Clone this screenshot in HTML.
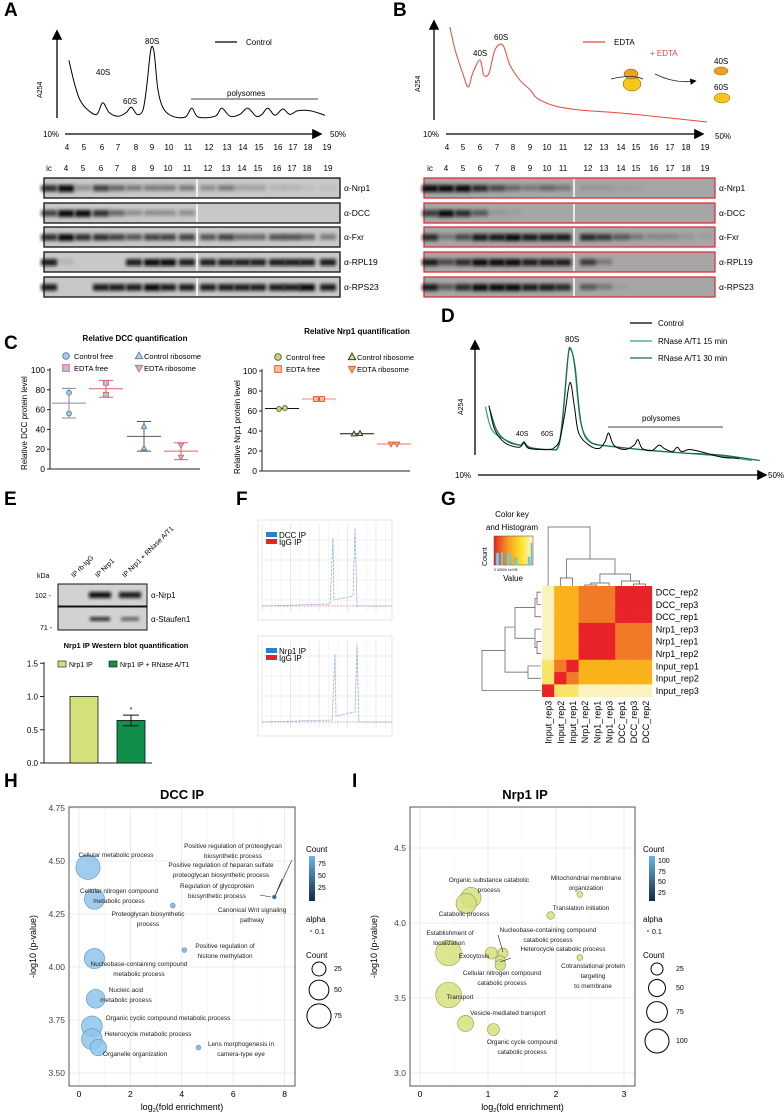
<!DOCTYPE html>
<html><head><meta charset="utf-8"><style>
html,body{margin:0;padding:0;background:#fff;}
svg{display:block;font-family:"Liberation Sans",sans-serif;}
.pl{font-weight:bold;font-size:19px;}
.t9{font-size:9px;}
.t8{font-size:8px;}
.t7{font-size:7px;}
.lab{font-size:6.4px;fill:#222;}
</style></head><body>
<svg id="fig" width="784" height="1117" viewBox="0 0 784 1117" xmlns="http://www.w3.org/2000/svg">
<defs>
<filter id="bl" x="-50%" y="-50%" width="200%" height="200%"><feGaussianBlur stdDeviation="1.6"/></filter>
<linearGradient id="ck" x1="0" x2="1" y1="0" y2="0"><stop offset="0" stop-color="#e8242a"/><stop offset="0.35" stop-color="#f59a20"/><stop offset="0.7" stop-color="#fbe32a"/><stop offset="1" stop-color="#fdf8d0"/></linearGradient>
<linearGradient id="cbH" x1="0" x2="0" y1="0" y2="1"><stop offset="0" stop-color="#68b4ec"/><stop offset="1" stop-color="#132b43"/></linearGradient>
<marker id="arr" markerWidth="8" markerHeight="8" refX="6" refY="4" orient="auto"><path d="M0,0 L8,4 L0,8 z" fill="#000"/></marker>
</defs>
<rect width="784" height="1117" fill="#fff"/>

<text class="pl" x="4" y="16">A</text>
<text class="pl" x="393" y="16">B</text>
<text class="pl" x="4" y="349">C</text>
<text class="pl" x="441" y="322">D</text>
<text class="pl" x="4" y="505">E</text>
<text class="pl" x="236" y="505">F</text>
<text class="pl" x="441" y="505">G</text>
<text class="pl" x="4" y="787">H</text>
<text class="pl" x="352" y="787">I</text>

<g>
<line x1="57" y1="118" x2="57" y2="32" stroke="#000" stroke-width="1.3" marker-end="url(#arr)"/>
<text class="t7" transform="translate(42,98) rotate(-90)">A254</text>
<line x1="65" y1="134" x2="320" y2="134" stroke="#000" stroke-width="1.3" marker-end="url(#arr)"/>
<text class="t8" x="43" y="137">10%</text>
<text class="t8" x="330" y="137">50%</text>
<line x1="215" y1="42" x2="237" y2="42" stroke="#000" stroke-width="1.2"/>
<text class="t8" x="246" y="45">Control</text>
<text class="t8" x="145" y="44">80S</text>
<text class="t8" x="96" y="75">40S</text>
<text class="t8" x="123" y="104">60S</text>
<text class="t8" x="227" y="96">polysomes</text>
<line x1="191" y1="99" x2="318" y2="99" stroke="#000" stroke-width="0.8"/>
</g>

<g>
<line x1="434" y1="120" x2="434" y2="22" stroke="#000" stroke-width="1.3" marker-end="url(#arr)"/>
<text class="t7" transform="translate(420,92) rotate(-90)">A254</text>
<line x1="446" y1="134" x2="702" y2="134" stroke="#000" stroke-width="1.3" marker-end="url(#arr)"/>
<text class="t8" x="423" y="137">10%</text>
<text class="t8" x="715" y="139">50%</text>
<line x1="583" y1="42" x2="605" y2="42" stroke="#e8473a" stroke-width="1.2"/>
<text class="t8" x="614" y="45">EDTA</text>
<text class="t8" x="650" y="56" fill="#e8473a">+ EDTA</text>
<text class="t8" x="473" y="56">40S</text>
<text class="t8" x="494" y="40">60S</text>
<g>
<ellipse cx="632" cy="84" rx="9" ry="7" fill="#f5c518" stroke="#6a5000" stroke-width="0.5"/>
<ellipse cx="631" cy="74" rx="7" ry="5" fill="#f0a020" stroke="#6a5000" stroke-width="0.5"/>
<path d="M611,79 Q632,74 643,79" stroke="#222" fill="none" stroke-width="0.8"/>
</g>
<path d="M655,74 Q675,84 695,81" stroke="#222" fill="none" stroke-width="0.8" marker-end="url(#arr)"/>
<text class="t8" x="714" y="64">40S</text>
<ellipse cx="721" cy="71" rx="7" ry="4" fill="#f0a020" stroke="#6a5000" stroke-width="0.4"/>
<text class="t8" x="714" y="90">60S</text>
<ellipse cx="722" cy="98" rx="8" ry="5" fill="#f5c518" stroke="#6a5000" stroke-width="0.4"/>
</g>

<g id="blotsA"></g>
<g id="blotsB"></g>

<text x="135" y="341" text-anchor="middle" font-size="8" font-weight="bold">Relative DCC quantification</text>
<text x="357" y="334" text-anchor="middle" font-size="8" font-weight="bold">Relative Nrp1 quantification</text>
<text class="t8" transform="translate(27,470) rotate(-90)">Relative DCC protein level</text>
<text class="t8" transform="translate(240,474) rotate(-90)">Relative Nrp1 protein level</text>
<g id="chartC"></g>

<g>
<line x1="475" y1="455" x2="475" y2="342" stroke="#000" stroke-width="1.3" marker-end="url(#arr)"/>
<text class="t7" transform="translate(463,415) rotate(-90)">A254</text>
<line x1="478" y1="475" x2="765" y2="475" stroke="#000" stroke-width="1.3" marker-end="url(#arr)"/>
<text class="t8" x="455" y="478">10%</text>
<text class="t8" x="768" y="478">50%</text>
<line x1="630" y1="323" x2="652" y2="323" stroke="#000" stroke-width="1.2"/>
<text class="t8" x="658" y="326">Control</text>
<line x1="630" y1="341" x2="652" y2="341" stroke="#2aa67a" stroke-width="1.2"/>
<text class="t8" x="658" y="344">RNase A/T1 15 min</text>
<line x1="630" y1="358" x2="652" y2="358" stroke="#1e6e3c" stroke-width="1.2"/>
<text class="t8" x="658" y="361">RNase A/T1 30 min</text>
<text class="t8" x="565" y="342">80S</text>
<text class="t7" x="516" y="436">40S</text>
<text class="t7" x="541" y="436">60S</text>
<text class="t8" x="642" y="421">polysomes</text>
<line x1="608" y1="427" x2="723" y2="427" stroke="#000" stroke-width="0.8"/>
</g>
<g id="profiles"></g>

<g>
<text class="t7" transform="translate(74,578) rotate(-45)">IP rb-IgG</text>
<text class="t7" transform="translate(98,578) rotate(-45)">IP Nrp1</text>
<text class="t7" transform="translate(125,578) rotate(-45)">IP Nrp1 + RNase A/T1</text>
<text class="t7" x="37" y="578">kDa</text>
<text class="t7" x="35" y="598">102 -</text>
<text class="t7" x="40" y="630">71 -</text>
<rect x="58" y="584" width="89" height="22" fill="#d2d2d2" stroke="#111" stroke-width="1"/>
<rect x="58" y="607" width="89" height="23" fill="#d2d2d2" stroke="#111" stroke-width="1"/>
<rect x="89" y="592" width="22" height="6" fill="#111" filter="url(#bl)"/>
<rect x="119" y="592" width="22" height="6" fill="#1a1a1a" filter="url(#bl)"/>
<rect x="90" y="617" width="20" height="4" fill="#333" filter="url(#bl)"/>
<rect x="121" y="617" width="18" height="4" fill="#666" filter="url(#bl)"/>
<text class="t8" x="151" y="598">α-Nrp1</text>
<text class="t8" x="151" y="622">α-Staufen1</text>
<text x="126" y="648" text-anchor="middle" font-size="7.5" font-weight="bold">Nrp1 IP Western blot quantification</text>
<rect x="58" y="661" width="8" height="6" fill="#d4e07a" stroke="#111" stroke-width="0.6"/>
<text class="t7" x="69" y="667">Nrp1 IP</text>
<rect x="109" y="661" width="8" height="6" fill="#0f8f4a" stroke="#111" stroke-width="0.6"/>
<text class="t7" x="120" y="667">Nrp1 IP + RNase A/T1</text>
</g>
<g id="chartE"></g>

<g id="panelF"></g>

<g>
<text class="t8" x="512" y="517" text-anchor="middle">Color key</text>
<text class="t8" x="512" y="530" text-anchor="middle">and Histogram</text>
<rect x="494" y="536" width="39" height="29" fill="url(#ck)" stroke="#444" stroke-width="0.5"/>
<path d="M496,565 V553 H499 V565 M501,565 V552 H503 V565 M507,565 V553 H510 V565 M514,565 V558 H517 V565 M528,565 V557 H530 V565 M531,565 V543 H532 V565" fill="#7ec9d8" stroke="#4fb0c8" stroke-width="0.4"/>
<text font-size="7" transform="translate(487,566) rotate(-90)">Count</text>
<text font-size="3.5" x="494" y="571">0  40000 1e+05</text>
<text class="t8" x="513" y="581" text-anchor="middle">Value</text>
</g>
<g id="heat"></g>

<text x="182" y="799" text-anchor="middle" font-size="13" font-weight="bold">DCC IP</text>
<text x="525" y="799" text-anchor="middle" font-size="13" font-weight="bold">Nrp1 IP</text>
<g id="chartH"></g>
<g id="chartI"></g>
<g id="labelsHI">
<g class="lab" text-anchor="middle">
<text x="116" y="857">Cellular metabolic process</text>
<text x="119" y="893">Cellular nitrogen compound</text><text x="119" y="903">metabolic process</text>
<text x="148" y="916">Proteoglycan biosynthetic</text><text x="148" y="926">process</text>
<text x="233" y="848">Positive regulation of proteoglycan</text><text x="233" y="858">biosynthetic process</text>
<text x="221" y="867">Positive regulation of heparan sulfate</text><text x="221" y="877">proteoglycan biosynthetic process</text>
<text x="217" y="888">Regulation of glycoprotein</text><text x="217" y="898">biosynthetic process</text>
<text x="252" y="912">Canonical Wnt signaling</text><text x="252" y="922">pathway</text>
<text x="225" y="948">Positive regulation of</text><text x="225" y="958">histone methylation</text>
<text x="139" y="966">Nucleobase-containing compound</text><text x="139" y="976">metabolic process</text>
<text x="126" y="992">Nucleic acid</text><text x="126" y="1002">metabolic process</text>
<text x="168" y="1020">Organic cyclic compound metabolic process</text>
<text x="148" y="1036">Heterocycle metabolic process</text>
<text x="241" y="1046">Lens morphogenesis in</text><text x="241" y="1056">camera-type eye</text>
<text x="135" y="1056">Organelle organization</text>
<text x="489" y="882">Organic substance catabolic</text><text x="489" y="892">process</text>
<text x="464" y="916">Catabolic process</text>
<text x="586" y="880">Mitochondrial membrane</text><text x="586" y="890">organization</text>
<text x="581" y="910">Translation initiation</text>
<text x="450" y="935">Establishment of</text><text x="449" y="945">localization</text>
<text x="548" y="932">Nucleobase-containing compound</text><text x="548" y="942">catabolic process</text>
<text x="563" y="951">Heterocycle catabolic process</text>
<text x="474" y="958">Exocytosis</text>
<text x="593" y="968">Cotranslational protein</text><text x="593" y="978">targeting</text><text x="593" y="988">to membrane</text>
<text x="502" y="975">Cellular nitrogen compound</text><text x="502" y="985">catabolic process</text>
<text x="460" y="999">Transport</text>
<text x="508" y="1015">Vesicle-mediated transport</text>
<text x="522" y="1044">Organic cycle compound</text><text x="522" y="1054">catabolic process</text>
</g>
<path d="M292,860 L275,896 M282,879 L275,896 M260,895 L271,897 M498,935 L503,952 M511,958 L500,962" stroke="#222" stroke-width="0.6" fill="none"/>
</g>
<g>
<text class="t8" x="306" y="852">Count</text>
<rect x="309" y="856" width="6" height="45" fill="url(#cbH)"/>
<text class="t7" x="318" y="866">75</text><text class="t7" x="318" y="878">50</text><text class="t7" x="318" y="890">25</text>
<text class="t8" x="306" y="922">alpha</text>
<circle cx="311" cy="931" r="1" fill="#777"/><text class="t7" x="315" y="934">0.1</text>
<text class="t8" x="306" y="958">Count</text>
<circle cx="319" cy="969" r="7" fill="none" stroke="#000"/><text class="t7" x="334" y="971">25</text>
<circle cx="319" cy="990" r="9.9" fill="none" stroke="#000"/><text class="t7" x="334" y="992">50</text>
<circle cx="319" cy="1016" r="12.1" fill="none" stroke="#000"/><text class="t7" x="334" y="1018">75</text>
</g>
<g>
<text class="t8" x="643" y="852">Count</text>
<rect x="649" y="856" width="6" height="45" fill="url(#cbH)"/>
<text class="t7" x="658" y="863">100</text><text class="t7" x="658" y="874">75</text><text class="t7" x="658" y="884">50</text><text class="t7" x="658" y="895">25</text>
<text class="t8" x="643" y="922">alpha</text>
<circle cx="648" cy="931" r="1" fill="#777"/><text class="t7" x="652" y="934">0.1</text>
<text class="t8" x="643" y="958">Count</text>
<circle cx="657" cy="969" r="6" fill="none" stroke="#000"/><text class="t7" x="676" y="971">25</text>
<circle cx="657" cy="988" r="8.5" fill="none" stroke="#000"/><text class="t7" x="676" y="990">50</text>
<circle cx="657" cy="1012" r="10.4" fill="none" stroke="#000"/><text class="t7" x="676" y="1014">75</text>
<circle cx="657" cy="1041" r="12" fill="none" stroke="#000"/><text class="t7" x="676" y="1043">100</text>
</g>
</svg>

<script>
const NS='http://www.w3.org/2000/svg';
const aPct=[10.6,11.5,12.3,13.5,14.9,15.8,16.8,18.2,19.4,20.2,21.1,22.0,22.6,23.2,23.7,24.3,25.1,26.5,28.5,29.5,30.5,33.1,34.1,35.4,36.9,38.1,39.4,40.3,41.2,42.3,43.5,44.6,45.8,47.7,50.0];
const aAbs=[0.64,0.37,0.20,0.09,0.04,0.17,0.06,0.02,0.06,0.12,0.04,0.09,0.37,0.76,0.73,0.31,0.11,0.02,0.01,0.11,0.01,0.02,0.11,0.02,0.04,0.11,0.02,0.04,0.11,0.03,0.10,0.04,0.08,0.08,0.03];
const bPct=[10.6,11.4,12.5,13.4,14.1,15.2,15.8,16.6,17.5,18.7,19.8,21.3,22.9,23.6,24.4,26.7,30.5,36.7,42.8,50.0];
const bAbs=[0.93,0.70,0.48,0.33,0.47,0.60,0.45,0.47,0.70,0.75,0.55,0.40,0.30,0.24,0.20,0.14,0.10,0.07,0.03,-0.02];
const dCtrlPct=[11.5,12.3,13.7,15.6,16.3,17.0,19.7,20.5,21.2,21.9,22.6,23.2,23.8,25.2,26.6,27.4,27.9,28.6,30.1,31.4,31.9,32.5,33.8,34.8,35.5,36.6,37.3,37.9,39.0,41.1,43.4,45.8];
const dCtrlAbs=[0.45,0.23,0.11,0.07,0.11,0.06,0.05,0.07,0.14,0.38,0.66,0.44,0.20,0.09,0.06,0.12,0.20,0.09,0.05,0.09,0.14,0.06,0.04,0.09,0.06,0.03,0.07,0.03,0.05,0.02,-0.02,-0.03];
const d15Pct=[11.0,11.9,13.7,15.8,16.3,17.1,19.9,21.0,21.6,22.3,22.6,23.2,24.0,25.1,26.7,29.5,32.2,37.7,43.2,47.5];
const d15Abs=[0.44,0.23,0.14,0.09,0.11,0.06,0.05,0.07,0.32,0.86,0.98,0.82,0.32,0.14,0.09,0.07,0.05,0.02,-0.01,-0.05];
const d30Pct=[11.6,12.6,14.1,15.8,16.3,17.1,19.9,21.0,21.6,22.3,22.7,23.3,24.1,25.3,28.1,32.2,37.7,43.2,48.6];
const d30Abs=[0.42,0.22,0.12,0.09,0.12,0.07,0.05,0.08,0.35,0.88,0.96,0.80,0.30,0.12,0.08,0.05,0.02,0.00,-0.05];
const laneLabels=['ic','4','5','6','7','8','9','10','11','12','13','14','15','16','17','18','19'];
const blotNames=['α-Nrp1','α-DCC','α-Fxr','α-RPL19','α-RPS23'];
const blotA_nrp1=[.8,1,.3,.7,.5,.4,.4,.4,.4,.3,.4,.2,.2,.1,.1,.05,.05];
const blotA_dcc=[.7,1,1,.8,.5,.3,.3,.3,.3,0,0,0,0,0,0,0,0];
const blotA_fxr=[.8,1,.8,.8,.7,.6,.7,.7,.7,.6,.7,.5,.5,.6,.6,.5,.4];
const blotA_rpl19=[.9,.1,0,0,0,.9,1,1,.9,.9,.9,.9,.9,.9,.9,.9,.9];
const blotA_rps23=[.9,0,0,.9,.9,.9,1,.9,.9,.9,.9,.9,.9,.9,.9,1,.9];
const blotB_nrp1=[1,1,1,.8,.6,.4,.3,.4,.3,.1,.1,.05,.05,0,0,0,0];
const blotB_dcc=[.7,1,.8,.5,.1,.05,0,0,0,0,0,0,0,0,0,0,0];
const blotB_fxr=[.8,.3,.6,.9,.9,1,.9,.9,.9,.8,.7,.5,.3,.2,.2,.1,.05];
const blotB_rpl19=[.9,.6,.8,1,1,1,.9,.9,.9,.7,.3,0,0,0,0,0,0];
const blotB_rps23=[.9,.5,.8,1,1,1,.9,.9,.8,.5,.3,.05,0,0,0,0,0];
const cGroups=['Control free','EDTA free','Control ribosome','EDTA ribosome'];
const dccPts1=[77,87,43,24];
const dccPts2=[56,75,21,12];
const dccMean=[66.5,81,33,18];
const dccSd=[15,8.5,15,8.5];
const nrpPts1=[62,72,37,27];
const nrpPts2=[63,72,37.5,27];
const nrpMean=[62.5,72,37.3,27];
const nrpSd=[0,0,0,0];
const cTicks=[0,20,40,60,80,100];
const eCats=['Nrp1 IP','Nrp1 IP + RNase A/T1'];
const eVals=[1.0,0.64];
const eErr=[0,0.08];
const eTicks=[0,0.5,1.0,1.5];
const gCols=['Input_rep3','Input_rep2','Input_rep1','Nrp1_rep2','Nrp1_rep1','Nrp1_rep3','DCC_rep1','DCC_rep3','DCC_rep2'];
const gRows=['DCC_rep2','DCC_rep3','DCC_rep1','Nrp1_rep3','Nrp1_rep1','Nrp1_rep2','Input_rep1','Input_rep2','Input_rep3'];
const gVals=[
[0,2,2,3,3,3,4,4,4.3],
[0,2,2,3,3,3,4,4.3,4],
[0,2,2,3,3,3,4.3,4,4],
[0,2,2,4,4.2,4.3,3,3,3],
[0,2,2,4,4.3,4.2,3,3,3],
[0,2,2,4.3,4,4,3,3,3],
[1,3,4.3,2,2,2,2,2,2],
[1,4.3,3,2,2,2,2,2,2],
[4.3,1,1,0,0,0,0,0,0]];
const hTerms=['Cellular metabolic process','Cellular nitrogen compound metabolic process','Nucleobase-containing compound metabolic process','Nucleic acid metabolic process','Organic cyclic compound metabolic process','Heterocycle metabolic process','Organelle organization','Proteoglycan biosynthetic process','Positive regulation of histone methylation','Lens morphogenesis in camera-type eye','Canonical Wnt signaling pathway'];
const hFold=[0.35,0.6,0.6,0.65,0.5,0.5,0.75,3.65,4.1,4.65,7.6];
const hP=[4.47,4.32,4.04,3.85,3.72,3.66,3.62,4.29,4.08,3.62,4.33];
const hCount=[75,52,52,45,55,55,35,3,3,3,2];
const hXTicks=[0,2,4,6,8];
const hYTicks=[3.5,3.75,4.0,4.25,4.5,4.75];
const iTerms=['Organic substance catabolic process','Catabolic process','Establishment of localization','Exocytosis','Nucleobase-containing compound catabolic process','Heterocycle catabolic process','Cellular nitrogen compound catabolic process','Transport','Vesicle-mediated transport','Organic cycle compound catabolic process','Mitochondrial membrane organization','Translation initiation','Cotranslational protein targeting to membrane'];
const iFold=[0.75,0.68,0.42,1.05,1.22,1.18,1.18,0.42,0.67,1.08,2.35,1.92,2.35];
const iP=[4.17,4.13,3.8,3.8,3.8,3.75,3.72,3.52,3.33,3.29,4.19,4.05,3.77];
const iCount=[70,72,115,25,18,17,20,115,45,25,6,10,6];
const iXTicks=[0,1,2,3];
const iYTicks=[3.0,3.5,4.0,4.5];

function mk(tag,parent){const e=document.createElementNS(NS,tag);parent.appendChild(e);return e;}
function smoothPath(xs,ys,fx,fy){
  const P=xs.map((x,i)=>[fx(x),fy(ys[i])]);
  let d='M'+P[0][0].toFixed(1)+','+P[0][1].toFixed(1);
  for(let i=0;i<P.length-1;i++){
    const p0=P[i-1]||P[i],p1=P[i],p2=P[i+1],p3=P[i+2]||p2;
    const c1=[p1[0]+(p2[0]-p0[0])/6,p1[1]+(p2[1]-p0[1])/6];
    const c2=[p2[0]-(p3[0]-p1[0])/6,p2[1]-(p3[1]-p1[1])/6];
    d+='C'+c1[0].toFixed(1)+','+c1[1].toFixed(1)+' '+c2[0].toFixed(1)+','+c2[1].toFixed(1)+' '+p2[0].toFixed(1)+','+p2[1].toFixed(1);
  }
  return d;
}
function txt(parent,x,y,s,size,anchor){const t=mk('text',parent);t.setAttribute('x',x);t.setAttribute('y',y);t.setAttribute('font-size',size);if(anchor)t.setAttribute('text-anchor',anchor);t.textContent=s;return t;}

const prof=document.getElementById('profiles');
const axA=p=>65+(p-10)/40*260, ayA=a=>118-a*90;
const axB=p=>446+(p-10)/40*261, ayB=a=>120-a*100;
const axD=p=>478+(p-10)/40*292, ayD=a=>455-a*110;
function curve(xs,ys,fx,fy,color,w,name){
  const p=mk('path',prof);
  p.setAttribute('d',smoothPath(xs,ys,fx,fy));
  p.setAttribute('fill','none');p.setAttribute('stroke',color);p.setAttribute('stroke-width',w);
  
  
}
curve(aPct,aAbs,axA,ayA,'#000',1,'a-control-curve');
curve(bPct,bAbs,axB,ayB,'#e8473a',1,'b-edta-curve');
curve(d15Pct,d15Abs,axD,ayD,'#2aa67a',1.2,'d-rnase-15-curve');
curve(d30Pct,d30Abs,axD,ayD,'#1e6e3c',1.2,'d-rnase-30-curve');
curve(dCtrlPct,dCtrlAbs,axD,ayD,'#000',1,'d-control-curve');

const fracA=[67,84,102,118,136,152,169,188,209,227,243,259,278,293,308,327];
const fracB=[447,463,480,497,513,530,547,563,588,604,621,636,654,670,686,705];
function fracLabels(xs,g,pref){for(let i=0;i<xs.length;i++){const t=txt(g,xs[i],150,laneLabels[i+1],8,'middle');
  
  }}
fracLabels(fracA,prof,'a');fracLabels(fracB,prof,'b');

function blots(gid,laneX,rows,x0,x1,sep,bg,border,labX,pref){
  const g=document.getElementById(gid);
  const rowY=[178,203,227,252,277];
  for(let i=0;i<laneX.length;i++){const t=txt(g,laneX[i],171,laneLabels[i],8,'middle');
    
    }
  rows.forEach((vals,r)=>{
    const y=rowY[r];
    const rc=mk('rect',g);rc.setAttribute('x',x0);rc.setAttribute('y',y);rc.setAttribute('width',x1-x0);rc.setAttribute('height',20);
    rc.setAttribute('fill',bg);rc.setAttribute('stroke',border);rc.setAttribute('stroke-width',1.3);
    
    
    vals.forEach((v,i)=>{ if(v<=0) return;
      const b=mk('rect',g);b.setAttribute('x',laneX[i]-8);b.setAttribute('y',y+7);b.setAttribute('width',16);b.setAttribute('height',5+v*2);
      b.setAttribute('fill','#111');b.setAttribute('opacity',v);b.setAttribute('filter','url(#bl)');
      
      
    });
    const l=mk('line',g);l.setAttribute('x1',sep);l.setAttribute('x2',sep);l.setAttribute('y1',y+1);l.setAttribute('y2',y+19);l.setAttribute('stroke','#fff');l.setAttribute('stroke-width',1.5);
    
    
    const t=txt(g,labX,y+13,blotNames[r],8.5);
    
    
  });
}
const laneA=[49,66,83,101,117,134,152,168,187,208,226,242,258,277,292,307,328];
const laneB=[430,446,463,480,497,513,530,547,563,588,604,621,636,654,670,686,705];
blots('blotsA',laneA,[blotA_nrp1,blotA_dcc,blotA_fxr,blotA_rpl19,blotA_rps23],44,340,197,'#c8c8c8','#111',344,'a');
blots('blotsB',laneB,[blotB_nrp1,blotB_dcc,blotB_fxr,blotB_rpl19,blotB_rps23],424,715,574,'#a6a6a6','#d8343a',719,'b');

const gC=document.getElementById('chartC');
function dotChart(ax,y0,yTop,xEnd,gx,p1,p2,mean,sd,styles,lineCols,legX,legX2,legY,pref){
  const ys=v=>y0-(v/100)*(y0-yTop);
  const a=mk('path',gC);a.setAttribute('d',`M${ax},${yTop-2}V${y0}H${xEnd}`);a.setAttribute('stroke','#222');a.setAttribute('fill','none');a.setAttribute('stroke-width',1);
  
  
  cTicks.forEach(v=>{const tk=mk('line',gC);tk.setAttribute('x1',ax-3);tk.setAttribute('x2',ax);tk.setAttribute('y1',ys(v));tk.setAttribute('y2',ys(v));tk.setAttribute('stroke','#222');
    
    
    const t=txt(gC,ax-5,ys(v)+3,String(v),8.5,'end');
    
    });
  for(let i=0;i<4;i++){
    const x=gx[i];
    const e=mk('path',gC);const top=ys(mean[i]+sd[i]),bot=ys(mean[i]-sd[i]);
    e.setAttribute('d',`M${x-7},${top}H${x+7}M${x},${top}V${bot}M${x-7},${bot}H${x+7}M${x-17},${ys(mean[i])}H${x+17}`);
    e.setAttribute('stroke',lineCols[i]);e.setAttribute('stroke-width',1);e.setAttribute('fill','none');
    
    
    [p1[i],p2[i]].forEach((v,k)=>{const m=marker(gC,styles[i],x+(sd[i]===0?(k?3:-3):0),ys(v),2.4);
      
      });
  }
  for(let i=0;i<4;i++){
    const lx=i<2?legX:legX2, ly=legY+(i%2)*12;
    const m=marker(gC,styles[i],lx,ly-3,3.3);
    
    
    const t=txt(gC,lx+(i<2?8:5),ly,cGroups[i],7.5);
    
    
  }
}
function marker(g,s,x,y,r){
  let m;
  if(s.shape==='circle'){m=mk('circle',g);m.setAttribute('cx',x);m.setAttribute('cy',y);m.setAttribute('r',r);}
  else if(s.shape==='square'){m=mk('rect',g);m.setAttribute('x',x-r);m.setAttribute('y',y-r);m.setAttribute('width',2*r);m.setAttribute('height',2*r);}
  else if(s.shape==='tri'){m=mk('path',g);m.setAttribute('d',`M${x},${y-r*1.2}L${x+r*1.1},${y+r*0.8}L${x-r*1.1},${y+r*0.8}Z`);}
  else {m=mk('path',g);m.setAttribute('d',`M${x},${y+r*1.2}L${x+r*1.1},${y-r*0.8}L${x-r*1.1},${y-r*0.8}Z`);}
  m.setAttribute('fill',s.fill);m.setAttribute('stroke',s.stroke);m.setAttribute('stroke-width',0.9);
  return m;
}
dotChart(50,469,370,200,[69,106,144,181],dccPts1,dccPts2,dccMean,dccSd,
 [{shape:'circle',fill:'#a8cce6',stroke:'#4a7fa8'},{shape:'square',fill:'#b4c4dc',stroke:'#e05a6a'},{shape:'tri',fill:'#b8d0e8',stroke:'#4a7fa8'},{shape:'inv',fill:'#c4b8d8',stroke:'#e06070'}],
 ['#7f8f9f','#e06060','#555','#e06060'],66,139,359,'c-dcc');
dotChart(262,471,371,410,[282,319,357,394],nrpPts1,nrpPts2,nrpMean,nrpSd,
 [{shape:'circle',fill:'#c9d77a',stroke:'#4b5a20'},{shape:'square',fill:'#f5c97a',stroke:'#e04040'},{shape:'tri',fill:'#d5e07a',stroke:'#222'},{shape:'inv',fill:'#f6a96b',stroke:'#e05a30'}],
 ['#111','#f08a70','#111','#f07050'],278,352,360,'c-nrp1');

const gE=document.getElementById('chartE');
const eY=v=>763-v*66.5;
const eX=[84,131];
{const a=mk('path',gE);a.setAttribute('d','M44,662V763H152');a.setAttribute('stroke','#222');a.setAttribute('fill','none');
 
 }
eTicks.forEach(v=>{const tk=mk('line',gE);tk.setAttribute('x1',40);tk.setAttribute('x2',44);tk.setAttribute('y1',eY(v));tk.setAttribute('y2',eY(v));tk.setAttribute('stroke','#222');
 
 
 const t=txt(gE,38,eY(v)+3,v.toFixed(1),8,'end');
 
 });
const eCol=['#d4e07a','#0f8f4a'];
eVals.forEach((v,i)=>{const r=mk('rect',gE);r.setAttribute('x',eX[i]-14);r.setAttribute('width',28);r.setAttribute('y',eY(v));r.setAttribute('height',eY(0)-eY(v));r.setAttribute('fill',eCol[i]);r.setAttribute('stroke','#111');r.setAttribute('stroke-width',0.8);
 
 
 if(eErr[i]>0){const e=mk('path',gE);const t=eY(v+eErr[i]),b=eY(v-eErr[i]);e.setAttribute('d',`M${eX[i]-8},${t}H${eX[i]+8}M${eX[i]},${t}V${b}M${eX[i]-8},${b}H${eX[i]+8}`);e.setAttribute('stroke','#111');e.setAttribute('fill','none');
  
  
  const s=txt(gE,eX[i],t-3,'*',7,'middle');
  
  }});

const gF=document.getElementById('panelF');
function trace(y0,h,name,spikes){
  const bx=mk('rect',gF);bx.setAttribute('x',258);bx.setAttribute('y',y0);bx.setAttribute('width',134);bx.setAttribute('height',h);bx.setAttribute('fill','#fff');bx.setAttribute('stroke','#e4e4e4');
  
  
  for(let i=0;i<14;i++){const l=mk('line',gF);const x=262+i*9.5;l.setAttribute('x1',x);l.setAttribute('x2',x);l.setAttribute('y1',y0+4);l.setAttribute('y2',y0+h-8);l.setAttribute('stroke',i%3?'#eeeef4':'#d8d8e4');l.setAttribute('stroke-width',0.6);
   
   }
  for(let j=1;j<5;j++){const l=mk('line',gF);const y=y0+j*h/5;l.setAttribute('x1',262);l.setAttribute('x2',392);l.setAttribute('y1',y);l.setAttribute('y2',y);l.setAttribute('stroke','#e0e0e8');l.setAttribute('stroke-width',0.6);
   
   }
  const base=y0+h-14;
  const r=mk('path',gF);r.setAttribute('d',`M262,${base}H392`);r.setAttribute('stroke','#e06070');r.setAttribute('stroke-width',0.6);r.setAttribute('stroke-dasharray','2 1');
  
  
  const b=mk('path',gF);b.setAttribute('d',`M262,${base}L${spikes[0]-3},${base-2}L${spikes[0]},${y0+18}L${spikes[0]+1},${base-6}L${spikes[1]-2},${base-10}L${spikes[1]},${y0+8}L${spikes[1]+2},${base}L392,${base}`);
  b.setAttribute('stroke','#8aa8d4');b.setAttribute('stroke-width',0.7);b.setAttribute('fill','none');b.setAttribute('stroke-dasharray','3 1');
  
  
  const s1=mk('rect',gF);s1.setAttribute('x',266);s1.setAttribute('y',y0+12);s1.setAttribute('width',11);s1.setAttribute('height',5);s1.setAttribute('fill','#2a7fcf');
  
  
  const s2=mk('rect',gF);s2.setAttribute('x',266);s2.setAttribute('y',y0+19);s2.setAttribute('width',11);s2.setAttribute('height',5);s2.setAttribute('fill','#e3242b');
  
  
  const t1=txt(gF,279,y0+18,name,8);
  
  
  const t2=txt(gF,279,y0+25,'IgG IP',8);
  
  
}
trace(520,100,'DCC IP',[333,355]);
trace(636,100,'Nrp1 IP',[335,357]);

const gG=document.getElementById('heat');
const hx0=542,hy0=586,cw=12.2,ch=12.3;
const pal=['#fcf2c0','#f9e46a','#f9b21c','#f07a28','#e8242a'];
function heatColor(v){const i=Math.max(0,Math.min(4,Math.round(v)));return pal[i];}
gVals.forEach((row,r)=>row.forEach((v,c)=>{const q=mk('rect',gG);q.setAttribute('x',hx0+c*cw);q.setAttribute('y',hy0+r*ch);q.setAttribute('width',cw+0.3);q.setAttribute('height',ch+0.3);q.setAttribute('fill',heatColor(v));
 
 }));
gRows.forEach((n,r)=>{const t=txt(gG,hx0+9*cw+4,hy0+r*ch+9.5,n,9);
 
 });
gCols.forEach((n,c)=>{const t=mk('text',gG);t.setAttribute('transform',`translate(${hx0+c*cw+cw/2+3.5},${hy0+9*ch+4}) rotate(-90)`);t.setAttribute('font-size',9);t.setAttribute('text-anchor','end');t.textContent=n;
 
 });
const cx=i=>hx0+cw*(i+0.5), ry=i=>hy0+ch*(i+0.5);
const topTree='M'+cx(1)+',586V578H'+cx(2)+'V586 M'+cx(3)+',586V585H'+cx(4)+'V586 M'+((cx(3)+cx(4))/2)+',585V583H'+cx(5)+'V586 M'+cx(7)+',586V584H'+cx(8)+'V586 M'+cx(6)+',586V581H'+((cx(7)+cx(8))/2)+'V584 M'+((cx(3)+cx(4))/2*0.5+cx(5)*0.5)+',583V574H'+((cx(6)+(cx(7)+cx(8))/2)/2)+'V581 M'+((cx(1)+cx(2))/2)+',578V559H615V574 M'+cx(0)+',586V527H590V559';
const tp=mk('path',gG);tp.setAttribute('d',topTree);tp.setAttribute('stroke','#555');tp.setAttribute('fill','none');tp.setAttribute('stroke-width',0.7);


const leftTree='M541,'+ry(0)+'H537V'+ry(1)+'H541 M537,'+((ry(0)+ry(1))/2)+'H535V'+ry(2)+'H541 M541,'+ry(4)+'H537V'+ry(5)+'H541 M537,'+((ry(4)+ry(5))/2)+'H535V'+ry(3)+'H541 M535,'+((ry(0)+ry(1))/4+ry(2)/2)+'H515V'+((ry(4)+ry(5))/4+ry(3)/2)+'H535 M541,'+ry(6)+'H528V'+ry(7)+'H541 M515,'+(ry(3)-2)+'H505V'+((ry(6)+ry(7))/2)+'H528 M505,'+((ry(3)+ry(6))/2+3)+'H482V'+ry(8)+'H541';
const lp=mk('path',gG);lp.setAttribute('d',leftTree);lp.setAttribute('stroke','#555');lp.setAttribute('fill','none');lp.setAttribute('stroke-width',0.7);



function bubble(gid,x0,x1,y0,y1,fx,fy,xt,yt,yfmt,fold,pv,cnt,rs,fill,stroke,pref,smallFill){
  const g=document.getElementById(gid);
  const bg=mk('rect',g);bg.setAttribute('x',x0);bg.setAttribute('y',y0);bg.setAttribute('width',x1-x0);bg.setAttribute('height',y1-y0);bg.setAttribute('fill','#fff');
  
  
  xt.forEach((v,i)=>{[v,v+(xt[1]-xt[0])/2].forEach((w,k)=>{if(fx(w)>x1)return;const l=mk('line',g);l.setAttribute('x1',fx(w));l.setAttribute('x2',fx(w));l.setAttribute('y1',y0);l.setAttribute('y2',y1);l.setAttribute('stroke',k?'#f2f2f2':'#e6e6e6');l.setAttribute('stroke-width',k?0.5:0.8);
    
    });
   const t=txt(g,fx(v),y1+11,String(v),8.5,'middle');
   
   });
  yt.forEach((v,i)=>{const l=mk('line',g);l.setAttribute('x1',x0);l.setAttribute('x2',x1);l.setAttribute('y1',fy(v));l.setAttribute('y2',fy(v));l.setAttribute('stroke','#e6e6e6');l.setAttribute('stroke-width',0.8);
   
   
   const t=txt(g,x0-4,fy(v)+3,yfmt(v),8.5,'end');t.setAttribute('fill','#444');
   
   });
  fold.forEach((f,i)=>{const c=mk('circle',g);c.setAttribute('cx',fx(f));c.setAttribute('cy',fy(pv[i]));c.setAttribute('r',rs(cnt[i]));
   c.setAttribute('fill',smallFill(cnt[i]));c.setAttribute('fill-opacity',0.85);c.setAttribute('stroke',stroke);c.setAttribute('stroke-width',0.6);
   
   });
  const fr=mk('rect',g);fr.setAttribute('x',x0);fr.setAttribute('y',y0);fr.setAttribute('width',x1-x0);fr.setAttribute('height',y1-y0);fr.setAttribute('fill','none');fr.setAttribute('stroke','#555');fr.setAttribute('stroke-width',1);
  
  
  const xl=txt(g,(x0+x1)/2,y1+24,'log',9,'middle');
  const sub=mk('tspan',xl);sub.setAttribute('font-size',5.5);sub.setAttribute('dy',2);sub.textContent='2';
  const rest=mk('tspan',xl);rest.setAttribute('dy',-2);rest.textContent='(fold enrichment)';
  
  
  const yl=mk('text',g);yl.setAttribute('transform',`translate(${x0-33},${(y0+y1)/2}) rotate(-90)`);yl.setAttribute('font-size',9);yl.setAttribute('text-anchor','middle');yl.textContent='-log10 (p-value)';
  
  
}
const xH=v=>79+v*25.7, yH=v=>1073-(v-3.5)*212;
bubble('chartH',69,295,807,1086,xH,yH,hXTicks,hYTicks,v=>v.toFixed(2),hFold,hP,hCount,c=>1.4*Math.sqrt(c),'#8fc4ea','#5a90c0','h',c=>c<3?'#2a4a70':(c<5?'#7fb0d8':'#8fc4ea'));
const xI=v=>420+v*68, yI=v=>1073-(v-3.0)*150;
bubble('chartI',410,635,807,1086,xI,yI,iXTicks,iYTicks,v=>v.toFixed(1),iFold,iP,iCount,c=>1.2*Math.sqrt(c),'#d7e07e','#8c9a50','i',c=>'#d7e07e');
</script>
</body></html>
